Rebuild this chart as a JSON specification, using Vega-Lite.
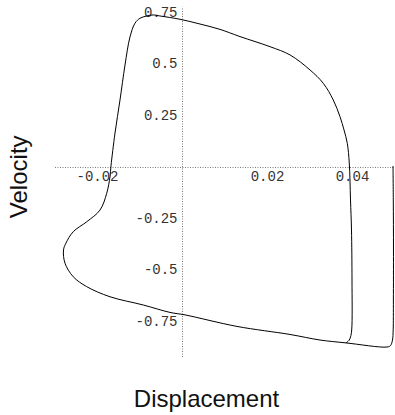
{
  "$schema": "https://vega.github.io/schema/vega-lite/v6.json",
  "width": 340,
  "height": 350.2,
  "autosize": {"type": "none"},
  "padding": {"left": 54.5, "top": 6.3, "right": 0.5, "bottom": 58.5},
  "background": "white",
  "config": {"view": {"stroke": null}},
  "data": {"values": [
    {"i": 1, "displacement": 0.04965, "velocity": 0.005},
    {"i": 2, "displacement": 0.04972, "velocity": -0.160},
    {"i": 3, "displacement": 0.04976, "velocity": -0.403},
    {"i": 4, "displacement": 0.04974, "velocity": -0.646},
    {"i": 5, "displacement": 0.04969, "velocity": -0.791},
    {"i": 6, "displacement": 0.04953, "velocity": -0.840},
    {"i": 7, "displacement": 0.04906, "velocity": -0.867},
    {"i": 8, "displacement": 0.04824, "velocity": -0.874},
    {"i": 9, "displacement": 0.03859, "velocity": -0.854},
    {"i": 10, "displacement": 0.03247, "velocity": -0.840},
    {"i": 11, "displacement": 0.02541, "velocity": -0.813},
    {"i": 12, "displacement": 0.01294, "velocity": -0.774},
    {"i": 13, "displacement": 0.00071, "velocity": -0.718},
    {"i": 14, "displacement": -0.00282, "velocity": -0.706},
    {"i": 15, "displacement": -0.00911, "velocity": -0.670},
    {"i": 16, "displacement": -0.01694, "velocity": -0.630},
    {"i": 17, "displacement": -0.02242, "velocity": -0.581},
    {"i": 18, "displacement": -0.02558, "velocity": -0.533},
    {"i": 19, "displacement": -0.02753, "velocity": -0.467},
    {"i": 20, "displacement": -0.02788, "velocity": -0.403},
    {"i": 21, "displacement": -0.02729, "velocity": -0.369},
    {"i": 22, "displacement": -0.02558, "velocity": -0.314},
    {"i": 23, "displacement": -0.02242, "velocity": -0.266},
    {"i": 24, "displacement": -0.01929, "velocity": -0.209},
    {"i": 25, "displacement": -0.01772, "velocity": -0.128},
    {"i": 26, "displacement": -0.01694, "velocity": -0.047},
    {"i": 27, "displacement": -0.01671, "velocity": 0.005},
    {"i": 28, "displacement": -0.01576, "velocity": 0.165},
    {"i": 29, "displacement": -0.01459, "velocity": 0.325},
    {"i": 30, "displacement": -0.01341, "velocity": 0.495},
    {"i": 31, "displacement": -0.01224, "velocity": 0.631},
    {"i": 32, "displacement": -0.01106, "velocity": 0.698},
    {"i": 33, "displacement": -0.00988, "velocity": 0.722},
    {"i": 34, "displacement": -0.00831, "velocity": 0.733},
    {"i": 35, "displacement": -0.00682, "velocity": 0.738},
    {"i": 36, "displacement": -0.00518, "velocity": 0.733},
    {"i": 37, "displacement": -0.00047, "velocity": 0.717},
    {"i": 38, "displacement": 0.00424, "velocity": 0.694},
    {"i": 39, "displacement": 0.00894, "velocity": 0.668},
    {"i": 40, "displacement": 0.01365, "velocity": 0.633},
    {"i": 41, "displacement": 0.02071, "velocity": 0.584},
    {"i": 42, "displacement": 0.02541, "velocity": 0.544},
    {"i": 43, "displacement": 0.03012, "velocity": 0.471},
    {"i": 44, "displacement": 0.03325, "velocity": 0.406},
    {"i": 45, "displacement": 0.0356, "velocity": 0.325},
    {"i": 46, "displacement": 0.03718, "velocity": 0.244},
    {"i": 47, "displacement": 0.03812, "velocity": 0.180},
    {"i": 48, "displacement": 0.03889, "velocity": 0.115},
    {"i": 49, "displacement": 0.03936, "velocity": 0.019},
    {"i": 50, "displacement": 0.03965, "velocity": -0.160},
    {"i": 51, "displacement": 0.03988, "velocity": -0.306},
    {"i": 52, "displacement": 0.04, "velocity": -0.549},
    {"i": 53, "displacement": 0.03993, "velocity": -0.791},
    {"i": 54, "displacement": 0.03965, "velocity": -0.825},
    {"i": 55, "displacement": 0.03929, "velocity": -0.842},
    {"i": 56, "displacement": 0.03859, "velocity": -0.854}
  ]},
  "mark": {"type": "line", "interpolate": "catmull-rom", "color": "black", "strokeWidth": 1},
  "encoding": {
    "x": {
      "field": "displacement", "type": "quantitative",
      "scale": {"domain": [-0.03, 0.05], "nice": false, "zero": false},
      "axis": {
        "orient": "bottom", "offset": -189.52, "grid": false,
        "values": [-0.02, 0.02, 0.04],
        "labelExpr": "'' + datum.value",
        "ticks": false, "tickSize": 0, "labelPadding": 3,
        "labelFont": "Liberation Mono", "labelFontSize": 14, "labelColor": "#333",
        "domainColor": "#777", "domainDash": [1, 1.5], "domainWidth": 1,
        "title": "Displacement", "titleFont": "Liberation Sans", "titleFontSize": 24,
        "titleFontWeight": "normal", "titleColor": "#111",
        "titleX": 151.5, "titleY": 240, "titleAlign": "center", "titleBaseline": "alphabetic", "titleAnchor": null
      }
    },
    "y": {
      "field": "velocity", "type": "quantitative",
      "scale": {"domain": [-0.92, 0.78], "nice": false, "zero": false},
      "axis": {
        "orient": "left", "offset": -127.5, "grid": false,
        "values": [-0.75, -0.5, -0.25, 0.25, 0.5, 0.75],
        "labelExpr": "'' + datum.value",
        "ticks": false, "tickSize": 0, "labelPadding": 5,
        "labelFont": "Liberation Mono", "labelFontSize": 14, "labelColor": "#333",
        "domainColor": "#777", "domainDash": [1, 1.5], "domainWidth": 1,
        "title": "Velocity", "titleFont": "Liberation Sans", "titleFontSize": 24,
        "titleFontWeight": "normal", "titleColor": "#111",
        "titleX": -163, "titleY": 170, "titleAngle": 270, "titleAlign": "center", "titleBaseline": "middle", "titleAnchor": null
      }
    },
    "order": {"field": "i", "type": "quantitative"}
  }
}
